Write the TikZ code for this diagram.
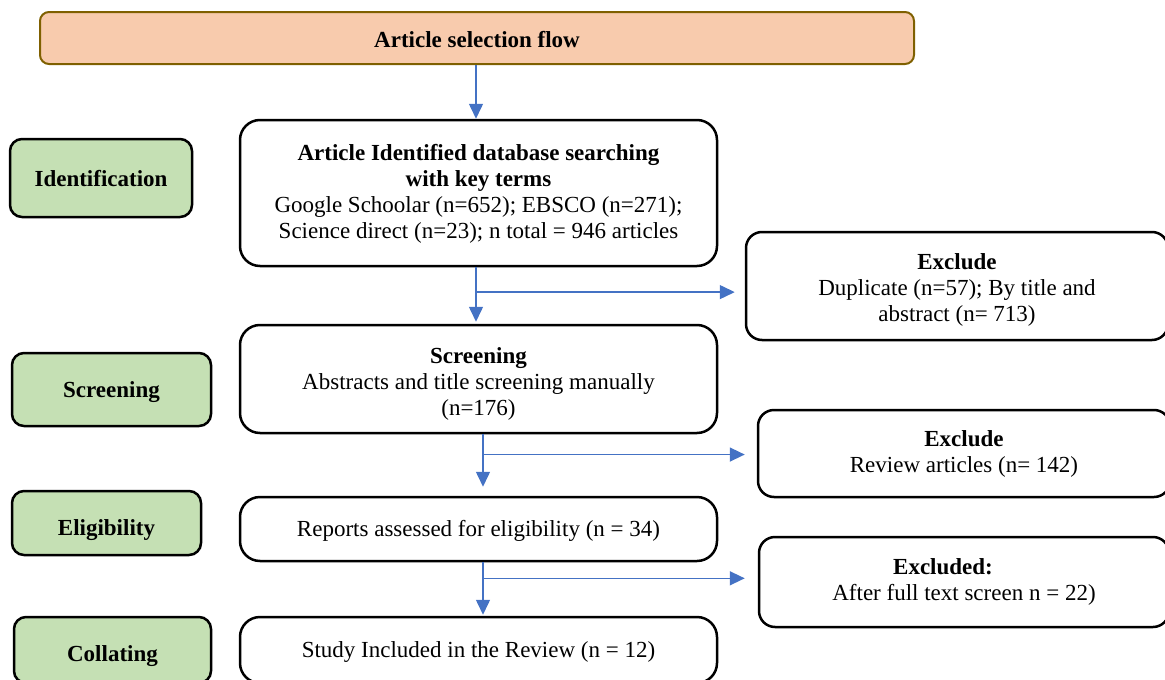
\documentclass[tikz,border=0pt]{standalone}
\usepackage{fontspec}
\setmainfont{Liberation Serif}
\usetikzlibrary{arrows.meta}
\usetikzlibrary{calc}

\definecolor{titlefill}{HTML}{F8CBAD}
\definecolor{titleborder}{HTML}{7F6000}
\definecolor{labelfill}{HTML}{C5E0B4}
\definecolor{flowblue}{HTML}{4472C4}

\begin{document}
\begin{tikzpicture}[x=1pt,y=-1pt,
      font=\fontsize{23}{26}\selectfont,
      titleblock/.style={draw=titleborder,fill=titlefill,line width=2pt,rounded corners=9pt,
                         minimum width=874pt,minimum height=52pt,font=\bfseries\fontsize{23}{26}\selectfont},
      stageblock/.style={draw,line width=2.5pt,rounded corners=20pt,minimum width=477pt,align=center,inner sep=0pt},
      excludeblock/.style={stageblock,rounded corners=16pt},
      labelblock/.style={draw,fill=labelfill,line width=2.5pt,rounded corners=12pt,inner sep=0pt,
                         font=\bfseries\fontsize{23}{26}\selectfont},
      flow/.style={draw=flowblue,line width=1.5pt,-{Triangle[length=15pt,width=14pt]}}]
    \clip (0,0) rectangle (1165,680);

    % Title
    \node[titleblock,text height=19.7pt,text depth=0pt] (banner) at (477,38) {Article selection flow};

    % Stages
    \node[stageblock,minimum height=146pt] (ident)  at (478.5,193)
      {\rule{0pt}{18pt}\textbf{Article Identified database searching}\\ \textbf{with key terms}\\
       Google Schoolar (n=652); EBSCO (n=271);\\ Science direct (n=23); n total = 946 articles};
    \node[stageblock,minimum height=108pt] (screen) at (478.5,379)
      {\rule{0pt}{26pt}\textbf{Screening}\\ Abstracts and title screening manually\\ (n=176)};
    \node[stageblock,minimum height=64pt,text height=20pt,text depth=5pt] (elig) at (478.5,529)
      {Reports assessed for eligibility (n = 34)};
    \node[stageblock,minimum height=66pt,text height=20pt,text depth=5pt] (incl) at (478.5,650)
      {Study Included in the Review (n = 12)};

    % Exclusions
    \node[excludeblock,minimum width=422pt,minimum height=108pt] (excl1) at (957,286)
      {\rule{0pt}{24pt}\textbf{Exclude}\\ Duplicate (n=57); By title and\\ abstract (n= 713)};
    \node[excludeblock,minimum width=412pt,minimum height=87pt]  (excl2) at (964,453.5)
      {\textbf{Exclude}\\ Review articles (n= 142)};
    \node[excludeblock,minimum width=410pt,minimum height=90pt]  (excl3) at (964,582)
      {\textbf{Excluded:}\hspace*{42pt}\\ After full text screen n = 22)};

    % Phase labels
    \node[labelblock,minimum width=182pt,minimum height=78pt,text height=17.7pt,text depth=0pt] (lident)  at (101,178)     {Identification};
    \node[labelblock,minimum width=199pt,minimum height=73pt,text height=21.7pt,text depth=5pt] (lscreen) at (111.5,389.5) {Screening};
    \node[labelblock,minimum width=189pt,minimum height=64pt,text height=29.7pt,text depth=5pt] (lelig)   at (106.5,523)   {Eligibility};
    \node[labelblock,minimum width=197pt,minimum height=66pt,text height=27.7pt,text depth=5pt] (lcoll)   at (112.5,650)   {Collating};

    % Arrows
    \draw[flow] ([xshift=-1pt]banner.south) -- ([xshift=-1pt]banner.south |- ident.north);

    \draw[flow,shorten >=2pt] ([xshift=-2.5pt]ident.south) -- ([xshift=-2.5pt]screen.north);
    \coordinate (b1) at ($([xshift=-2.5pt]ident.south)!0.44!([xshift=-2.5pt]screen.north)$);
    \draw[flow,shorten >=10pt] (b1) -- (b1 -| excl1.west);

    \draw[flow,shorten >=9pt] ([xshift=4.5pt]screen.south) -- ([xshift=4.5pt]elig.north);
    \coordinate (b2) at ($([xshift=4.5pt]screen.south)!0.33!([xshift=4.5pt]elig.north)$);
    \draw[flow,shorten >=12pt] (b2) -- (b2 -| excl2.west);

    \draw[flow,shorten >=1pt] ([xshift=4.5pt]elig.south) -- ([xshift=4.5pt]incl.north);
    \coordinate (b3) at ($([xshift=4.5pt]elig.south)!0.30!([xshift=4.5pt]incl.north)$);
    \draw[flow,shorten >=13pt] (b3) -- (b3 -| excl3.west);

  \end{tikzpicture}
\end{document}
